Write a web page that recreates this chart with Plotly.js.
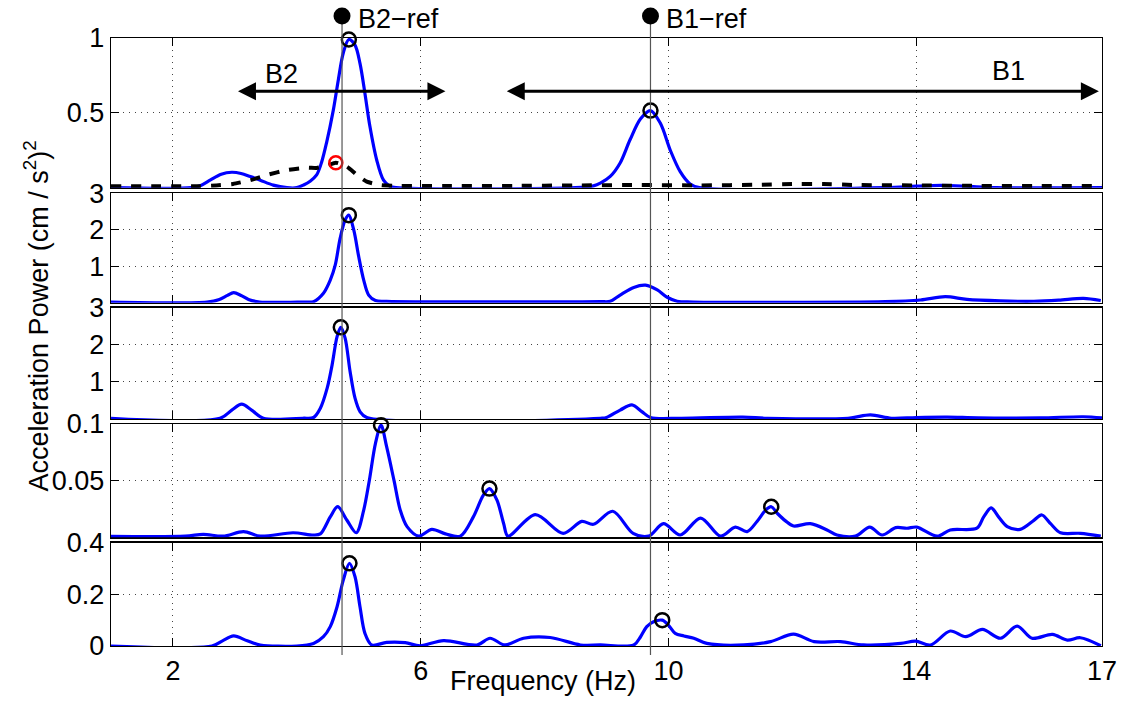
<!DOCTYPE html>
<html><head><meta charset="utf-8">
<script src="https://cdn.plot.ly/plotly-3.0.1.min.js"></script>
<style>html,body{margin:0;padding:0;background:#fff}#chart{width:1122px;height:702px}</style>
</head><body><div id="chart"></div>
<script>
// ---------- data (Frequency in Hz, Acceleration power) ----------
const xTickVals = [2, 6, 10, 14, 17];
const xTickText = ['2', '6', '10', '14', '17'];

const refFreq = [4.73, 9.71];
const refLabels = ['B2\u2212ref', 'B1\u2212ref'];

const bandNames = ['B2', 'B1'];
const bandStart = [3.05, 7.39];
const bandEnd = [6.40, 16.95];

// panel 1
const p1BlueF = [1,2.3,2.45,2.6,2.78,2.95,3.1,3.25,3.41,3.62,3.84,4.0,4.11,4.22,4.32,4.4,4.48,4.59,4.67,4.75,4.84,4.94,5.02,5.10,5.18,5.29,5.40,5.5,5.6,8.5,8.79,8.9,9.06,9.22,9.38,9.55,9.71,9.87,10.03,10.19,10.35,10.5,13.5,14.0,14.4,14.8,15.3,17];
const p1BlueP = [0,0,0.015,0.05,0.09,0.103,0.095,0.074,0.05,0.017,0,0,0.018,0.045,0.085,0.17,0.30,0.52,0.72,0.90,0.99,0.953,0.83,0.63,0.41,0.185,0.05,0.01,0,0,0.012,0.03,0.075,0.165,0.32,0.46,0.515,0.43,0.25,0.107,0.025,0,0,0.01,0.015,0.01,0,0];
const p1DashF = [1,2.44,2.7,2.97,3.25,3.52,3.84,4.16,4.32,4.48,4.63,4.81,4.97,5.13,5.35,5.56,6.5,7.5,8.5,9.5,10.5,11.5,12.0,12.5,13.0,14.0,15.0,16.0,17];
const p1DashP = [0.01,0.01,0.015,0.025,0.05,0.085,0.118,0.134,0.132,0.146,0.167,0.14,0.085,0.04,0.018,0.012,0.012,0.012,0.015,0.018,0.015,0.02,0.025,0.025,0.018,0.015,0.012,0.012,0.012];
const p1PeakF = [4.84, 9.71];
const p1PeakP = [0.99, 0.515];
const p1RedF = [4.63];
const p1RedP = [0.167];

// panel 2
const p2F = [1,2.55,2.75,2.88,2.98,3.1,3.22,3.4,4.1,4.27,4.43,4.54,4.62,4.70,4.78,4.84,4.92,5.0,5.08,5.16,5.27,5.45,8.9,9.06,9.22,9.44,9.63,9.82,9.98,10.14,10.4,13.5,14.07,14.47,14.82,15.36,15.9,16.3,16.7,16.98];
const p2P = [0.02,0.02,0.09,0.2,0.275,0.2,0.09,0.02,0.02,0.03,0.26,0.62,1.03,1.77,2.27,2.40,1.99,1.26,0.62,0.21,0.06,0.04,0.03,0.04,0.21,0.42,0.48,0.35,0.15,0.04,0.02,0.03,0.075,0.165,0.09,0.05,0.04,0.07,0.12,0.06];
const p2PeakF = [4.84];
const p2PeakP = [2.40];

// panel 3
const p3F = [1,2.76,2.95,3.11,3.27,3.46,4.1,4.27,4.38,4.49,4.57,4.65,4.71,4.78,4.86,4.94,5.02,5.13,8.9,9.0,9.22,9.41,9.57,9.71,10.2,11.2,11.6,12.9,13.26,13.6,14.0,14.5,15.0,16.0,16.7,17];
const p3P = [0.02,0.02,0.24,0.40,0.24,0.02,0.02,0.04,0.29,0.83,1.46,2.22,2.47,2.18,1.28,0.56,0.2,0.04,0.02,0.04,0.24,0.38,0.2,0.04,0.02,0.05,0.02,0.02,0.11,0.02,0.04,0.05,0.03,0.03,0.06,0.03];
const p3PeakF = [4.71];
const p3PeakP = [2.47];

// panel 4
const p4F = [1,2.2,2.49,2.81,3.14,3.41,3.94,4.27,4.38,4.54,4.66,4.81,4.96,5.08,5.17,5.27,5.36,5.45,5.57,5.67,5.78,5.97,6.18,6.4,6.64,6.85,7.01,7.11,7.23,7.34,7.41,7.85,8.30,8.60,8.79,9.1,9.43,9.68,9.92,10.19,10.52,10.84,11.08,11.27,11.43,11.57,11.66,11.76,11.89,12.02,12.29,12.56,12.72,13.02,13.25,13.45,13.67,13.85,14.01,14.34,14.55,14.98,15.09,15.21,15.33,15.47,15.68,15.9,16.03,16.17,16.33,16.65,16.98];
const p4P = [0.0008,0.001,0.0026,0.001,0.005,0.001,0.004,0.002,0.003,0.018,0.027,0.015,0.004,0.024,0.05,0.083,0.099,0.08,0.05,0.024,0.0094,0.001,0.007,0.003,0.001,0.018,0.037,0.043,0.033,0.012,0.001,0.020,0.0035,0.014,0.0115,0.023,0.0035,0.001,0.012,0.002,0.017,0.001,0.009,0.005,0.014,0.024,0.027,0.021,0.0145,0.010,0.012,0.0065,0.002,0.001,0.009,0.002,0.0085,0.008,0.009,0.001,0.0065,0.008,0.018,0.026,0.018,0.0095,0.007,0.015,0.0197,0.012,0.004,0.0035,0.001];
const p4PeakF = [5.36, 7.11, 11.66];
const p4PeakP = [0.099, 0.043, 0.027];

// panel 5
const p5F = [1,2.63,2.8,2.98,3.2,3.41,4.0,4.27,4.43,4.54,4.65,4.75,4.85,4.94,5.02,5.10,5.21,5.45,5.75,5.99,6.37,6.91,7.12,7.36,7.66,8.09,8.58,8.9,9.44,9.55,9.65,9.76,9.9,10.0,10.11,10.25,10.41,10.62,11.22,11.65,12.02,12.35,12.78,13.15,13.75,13.99,14.23,14.55,14.8,15.07,15.36,15.63,15.87,16.2,16.44,16.65,16.98];
const p5P = [0,0,0.02,0.039,0.02,0.004,0,0.01,0.036,0.075,0.152,0.255,0.32,0.268,0.152,0.049,0.004,0.014,0.013,0.001,0.021,0.004,0.03,0.004,0.03,0.033,0.004,0.004,0.004,0.036,0.075,0.094,0.10,0.081,0.049,0.039,0.03,0.01,0.004,0.017,0.046,0.017,0.017,0.004,0.01,0.019,0.004,0.058,0.036,0.064,0.03,0.077,0.03,0.045,0.023,0.032,0.001];
const p5PeakF = [4.85, 9.9];
const p5PeakP = [0.32, 0.10];

// ---------- layout / styling ----------
const FONT = '"Liberation Sans", Arial, Helvetica, sans-serif';
const BLUE = '#0000ff';
const panels = [
  {f: p1BlueF, p: p1BlueP, range: [0, 1],   tv: [0.5, 1],      pkF: p1PeakF, pkP: p1PeakP, dom: [0.7538, 1.0]},
  {f: p2F,     p: p2P,     range: [0, 3],   tv: [1, 2, 3],     pkF: p2PeakF, pkP: p2PeakP, dom: [0.5646, 0.7446]},
  {f: p3F,     p: p3P,     range: [0, 3],   tv: [1, 2, 3],     pkF: p3PeakF, pkP: p3PeakP, dom: [0.3734, 0.5564]},
  {f: p4F,     p: p4P,     range: [0, 0.1], tv: [0.05, 0.1],   pkF: p4PeakF, pkP: p4PeakP, dom: [0.1788, 0.3651]},
  {f: p5F,     p: p5P,     range: [0, 0.4], tv: [0, 0.2, 0.4], pkF: p5PeakF, pkP: p5PeakP, dom: [0.0, 0.1699]}
];

const traces = [];
const layout = {
  width: 1122, height: 702,
  margin: {l: 111, r: 20, t: 38, b: 56},
  paper_bgcolor: '#ffffff', plot_bgcolor: '#ffffff',
  showlegend: false,
  font: {family: FONT, size: 27, color: '#000'},
  shapes: [], annotations: []
};

panels.forEach((pn, i) => {
  const s = i === 0 ? '' : String(i + 1);
  const xa = 'x' + s, ya = 'y' + s;
  traces.push({x: pn.f, y: pn.p, xaxis: xa, yaxis: ya, type: 'scatter', mode: 'lines',
    line: {color: BLUE, width: 3.2, shape: 'spline', smoothing: 0.9}, cliponaxis: false, hoverinfo: 'skip'});
  if (i === 0) {
    traces.push({x: p1DashF, y: p1DashP, xaxis: xa, yaxis: ya, type: 'scatter', mode: 'lines',
      line: {color: '#000', width: 4, dash: '10px,10px', shape: 'spline', smoothing: 0.5}, cliponaxis: false, hoverinfo: 'skip'});
    traces.push({x: p1RedF, y: p1RedP, xaxis: xa, yaxis: ya, type: 'scatter', mode: 'markers',
      marker: {symbol: 'circle-open', size: 13, color: '#ff0000', line: {width: 2.5, color: '#ff0000'}}, cliponaxis: false});
  }
  traces.push({x: pn.pkF, y: pn.pkP, xaxis: xa, yaxis: ya, type: 'scatter', mode: 'markers',
    marker: {symbol: 'circle-open', size: 14, color: '#000', line: {width: 2.5, color: '#000'}}, cliponaxis: false});

  const common = {ticks: 'inside', ticklen: 8, tickwidth: 1, tickcolor: '#000', mirror: 'ticks',
    showline: true, linecolor: '#000', linewidth: 1.3, showgrid: true, gridcolor: '#444',
    griddash: '1px,5px', gridwidth: 1, zeroline: false, layer: 'below traces', fixedrange: true,
    tickfont: {family: FONT, size: 27, color: '#000'}};
  layout['xaxis' + s] = Object.assign({}, common, {domain: [0, 1], range: [1, 17], anchor: ya,
    tickmode: 'array', tickvals: xTickVals, ticktext: xTickText, showticklabels: i === 4});
  layout['yaxis' + s] = Object.assign({}, common, {domain: pn.dom, range: pn.range, anchor: xa,
    tickmode: 'array', tickvals: pn.tv});
});

// reference frequency lines, dots and labels
const refTopY = 1.036;   // paper position of the reference dots
const refBotY = -0.0148; // paper position of the line bottom
refFreq.forEach((f, i) => {
  layout.shapes.push({type: 'line', xref: 'x', yref: 'paper', x0: f, x1: f, y0: refBotY, y1: refTopY,
    line: {color: '#555', width: 1.2}, layer: 'above'});
  layout.shapes.push({type: 'circle', xref: 'x', yref: 'paper', xsizemode: 'pixel', ysizemode: 'pixel',
    xanchor: f, yanchor: refTopY, x0: -8.5, x1: 8.5, y0: -8.5, y1: 8.5,
    fillcolor: '#000', line: {color: '#000', width: 0}, layer: 'above'});
  layout.annotations.push({xref: 'x', yref: 'paper', x: f, y: refTopY, text: refLabels[i],
    showarrow: false, xanchor: 'left', yanchor: 'middle', xshift: 14, yshift: -3,
    font: {family: FONT, size: 27, color: '#000'}});
});

// band arrows (line + two filled heads)
const arrowY = 0.645;
const bandLabelX = [3.76, 15.49];
const bandLabelY = [0.758, 0.78];
bandNames.forEach((nm, i) => {
  layout.shapes.push({type: 'line', xref: 'x', yref: 'y', x0: bandStart[i] + 0.15, x1: bandEnd[i] - 0.15,
    y0: arrowY, y1: arrowY, line: {color: '#000', width: 3}, layer: 'above'});
  layout.shapes.push({type: 'path', xref: 'x', yref: 'y', xsizemode: 'pixel', ysizemode: 'pixel',
    xanchor: bandStart[i], yanchor: arrowY, path: 'M0,0 L18,9 L18,-9 Z',
    fillcolor: '#000', line: {color: '#000', width: 0}, layer: 'above'});
  layout.shapes.push({type: 'path', xref: 'x', yref: 'y', xsizemode: 'pixel', ysizemode: 'pixel',
    xanchor: bandEnd[i], yanchor: arrowY, path: 'M0,0 L-18,9 L-18,-9 Z',
    fillcolor: '#000', line: {color: '#000', width: 0}, layer: 'above'});
  layout.annotations.push({xref: 'x', yref: 'y', x: bandLabelX[i], y: bandLabelY[i], text: nm,
    showarrow: false, font: {family: FONT, size: 27, color: '#000'}, xanchor: 'center', yanchor: 'middle'});
});

// axis titles
layout.annotations.push({xref: 'paper', yref: 'paper', x: 0.4364, y: -0.0576, text: 'Frequency (Hz)',
  showarrow: false, xanchor: 'center', yanchor: 'middle', font: {family: FONT, size: 27, color: '#000'}});
layout.annotations.push({xref: 'paper', yref: 'paper', x: -0.0747, y: 0.5436,
  text: 'Acceleration Power (cm / s<sup>2</sup>)<sup>2</sup>', textangle: -90,
  showarrow: false, xanchor: 'center', yanchor: 'middle', font: {family: FONT, size: 27, color: '#000'}});

Plotly.newPlot('chart', traces, layout, {staticPlot: true, displayModeBar: false});
</script></body></html>
